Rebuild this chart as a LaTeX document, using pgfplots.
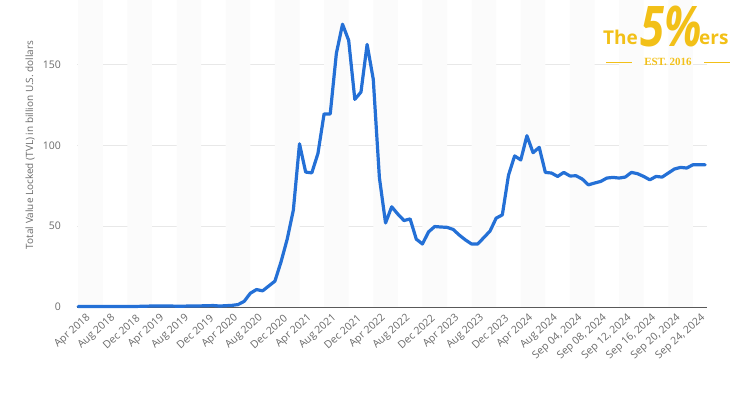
\documentclass[border=0pt]{standalone}
\usepackage{pgfplots}
\pgfplotsset{compat=1.18}
\usepackage{fontspec}
\setmainfont{Open Sans}
\newfontfamily\serifest{Liberation Serif}
\definecolor{lineblue}{RGB}{36,112,214}
\definecolor{band}{RGB}{251,251,251}
\definecolor{gridc}{RGB}{232,232,232}
\definecolor{tickc}{RGB}{105,105,105}
\definecolor{gold}{RGB}{242,192,24}
\begin{document}
\begin{tikzpicture}[x=1pt,y=1pt]
\path[use as bounding box] (0,0) rectangle (742,396);
\begin{axis}[
  at={(77pt,89pt)}, anchor=south west, scale only axis,
  width=630pt, height=307pt,
  xmin=-0.2, xmax=102.3, ymin=0, ymax=190,
  axis x line*=bottom, axis y line*=left,
  y axis line style={draw=none},
  x axis line style={draw=black!65, line width=0.9pt, -},
  xtick={0,4,...,100},
  xticklabels={Apr 2018,Aug 2018,Dec 2018,Apr 2019,Aug 2019,Dec 2019,Apr 2020,Aug 2020,Dec 2020,Apr 2021,Aug 2021,Dec 2021,Apr 2022,Aug 2022,Dec 2022,Apr 2023,Aug 2023,Dec 2023,Apr 2024,Aug 2024,{Sep 04, 2024},{Sep 08, 2024},{Sep 12, 2024},{Sep 16, 2024},{Sep 20, 2024},{Sep 24, 2024}},
  ytick={0,50,100,150},
  ymajorgrids, grid style={gridc, line width=0.6pt},
  tick style={draw=none},
  tick label style={font=\fontsize{10.5}{11}\selectfont, text=tickc},
  /pgf/number format/assume math mode=true,
  xticklabel style={rotate=42, anchor=east, inner sep=0pt, yshift=-14pt, xshift=2pt},
  yticklabel style={anchor=east, inner sep=0pt, xshift=-16pt},
  ylabel={Total Value Locked (TVL) in billion U.S. dollars},
  ylabel style={at={(axis description cs:-0.0746,0.528)}, anchor=center, font=\fontsize{10}{11}\selectfont, text=tickc},
  clip=false,
]
\addplot[ybar interval, fill=band, draw=none, forget plot] coordinates {
(0,190) (4,0) (8,190) (12,0) (16,190) (20,0) (24,190) (28,0) (32,190) (36,0) (40,190) (44,0) (48,190) (52,0) (56,190) (60,0) (64,190) (68,0) (72,190) (76,0) (80,190) (84,0) (88,190) (92,0) (96,190) (100,0) (102.3,0)};
\addplot[lineblue, line width=3.2pt, line join=round, line cap=round] table {
x y
0 0.3
1 0.3
2 0.3
3 0.3
4 0.3
5 0.3
6 0.3
7 0.3
8 0.3
9 0.3
10 0.4
11 0.5
12 0.6
13 0.6
14 0.6
15 0.6
16 0.5
17 0.5
18 0.6
19 0.6
20 0.7
21 0.8
22 0.9
23 0.6
24 0.8
25 1.0
26 1.5
27 3.5
28 8.5
29 10.8
30 10.0
31 13.0
32 16.0
33 28.0
34 42.0
35 60.0
36 101.0
37 83.5
38 83.0
39 95.0
40 119.5
41 119.5
42 157.0
43 175.0
44 165.0
45 128.5
46 133.0
47 162.5
48 141.0
49 80.0
50 52.0
51 62.0
52 57.5
53 53.5
54 54.5
55 42.0
56 39.0
57 46.5
58 49.8
59 49.5
60 49.3
61 48.0
62 44.5
63 41.5
64 39.0
65 39.0
66 43.0
67 47.0
68 55.0
69 57.0
70 81.5
71 93.5
72 91.0
73 106.0
74 95.5
75 98.8
76 83.3
77 82.9
78 80.8
79 83.3
80 81.1
81 81.2
82 79.2
83 75.6
84 76.7
85 77.7
86 79.8
87 80.2
88 79.8
89 80.4
90 83.3
91 82.5
92 80.8
93 78.7
94 80.8
95 80.4
96 82.9
97 85.4
98 86.4
99 86.0
100 88.0
101 88.0
102 88.0
};
\end{axis}
\node[anchor=base west, text=gold, inner sep=0pt, font=\bfseries\fontsize{19}{19}\selectfont] at (603,351) {The};
\node[anchor=base west, text=gold, inner sep=0pt, xscale=0.78, font=\bfseries\itshape\fontsize{56}{56}\selectfont] at (640,349) {5\%};
\node[anchor=base west, text=gold, inner sep=0pt, font=\bfseries\fontsize{19}{19}\selectfont] at (699,351) {ers};
\node[anchor=center, text=gold, inner sep=0pt, font=\serifest\bfseries\fontsize{11}{11}\selectfont] at (668,334) {EST. 2016};
\draw[gold, line width=0.8pt] (606,334) -- (632,334);
\draw[gold, line width=0.8pt] (704,334) -- (730,334);
\end{tikzpicture}
\end{document}
